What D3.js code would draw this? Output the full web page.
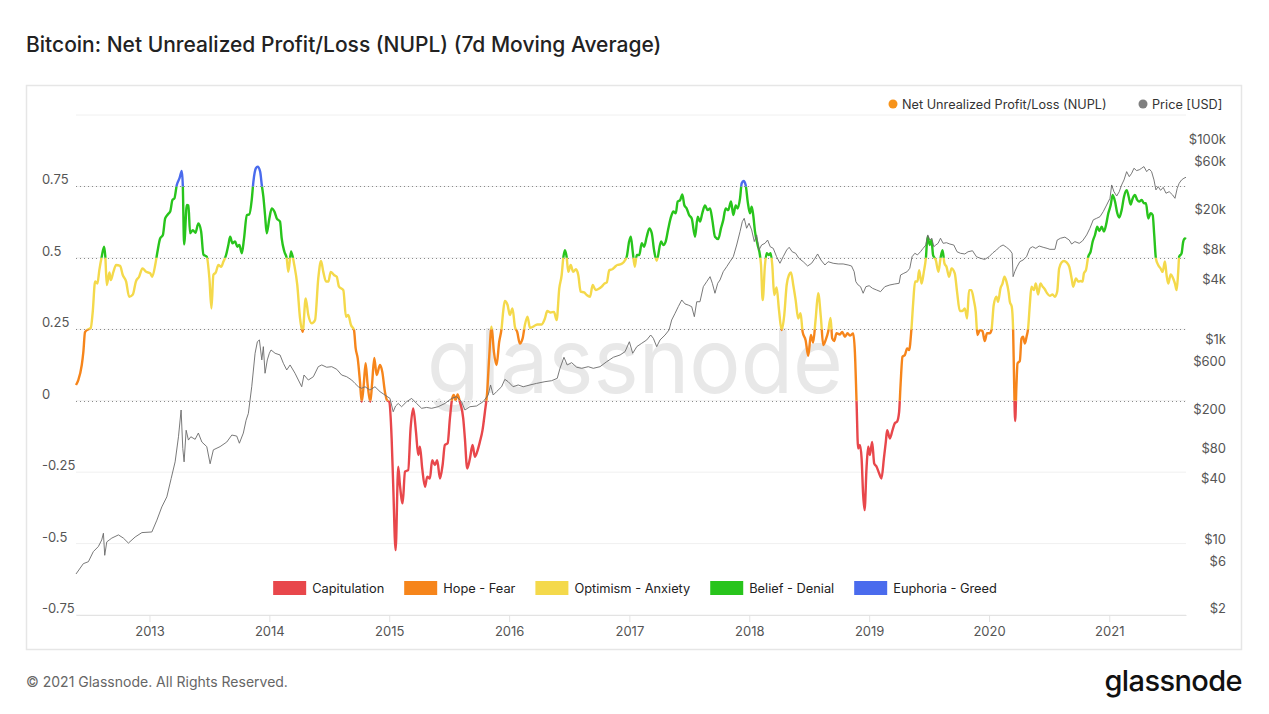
<!DOCTYPE html>
<html>
<head>
<meta charset="utf-8">
<script src="https://cdn.jsdelivr.net/npm/d3@7"></script>
<style>
  body { margin: 0; background: #fff; font-family: Inter, "Noto Sans", sans-serif; }
</style>
</head>
<body>
<svg id="chart" width="1269" height="714"></svg>
<script>
// NUPL (7d MA), [decimal year, value]
const nuplSeries = [
  [2012.389,0.055],[2012.408,0.072],[2012.437,0.125],[2012.450,0.17],[2012.464,0.24],[2012.492,0.25],
  [2012.512,0.255],[2012.528,0.31],[2012.548,0.417],[2012.567,0.41],[2012.583,0.457],[2012.603,0.504],
  [2012.623,0.539],[2012.633,0.504],[2012.645,0.405],[2012.667,0.449],[2012.678,0.422],[2012.700,0.451],
  [2012.723,0.475],[2012.756,0.472],[2012.778,0.44],[2012.806,0.417],[2012.831,0.364],[2012.862,0.372],
  [2012.887,0.417],[2012.914,0.434],[2012.942,0.463],[2012.973,0.451],[2013.006,0.446],[2013.023,0.434],
  [2013.048,0.475],[2013.067,0.522],[2013.089,0.568],[2013.112,0.58],[2013.131,0.638],[2013.153,0.652],
  [2013.173,0.662],[2013.192,0.703],[2013.208,0.708],[2013.228,0.755],[2013.250,0.778],[2013.270,0.804],
  [2013.278,0.755],[2013.289,0.547],[2013.312,0.685],[2013.325,0.683],[2013.339,0.586],[2013.362,0.597],
  [2013.383,0.588],[2013.408,0.62],[2013.431,0.592],[2013.450,0.512],[2013.478,0.504],[2013.500,0.428],
  [2013.517,0.323],[2013.533,0.44],[2013.553,0.449],[2013.575,0.475],[2013.598,0.469],[2013.617,0.487],
  [2013.639,0.51],[2013.658,0.545],[2013.673,0.574],[2013.692,0.551],[2013.714,0.557],[2013.733,0.539],
  [2013.750,0.545],[2013.770,0.516],[2013.789,0.568],[2013.812,0.65],[2013.833,0.652],[2013.853,0.703],
  [2013.867,0.767],[2013.887,0.813],[2013.903,0.819],[2013.923,0.802],[2013.937,0.755],[2013.950,0.714],
  [2013.964,0.65],[2013.978,0.586],[2014.000,0.638],[2014.020,0.673],[2014.042,0.662],[2014.062,0.638],
  [2014.089,0.627],[2014.103,0.568],[2014.125,0.522],[2014.145,0.498],[2014.158,0.451],[2014.181,0.522],
  [2014.208,0.475],[2014.233,0.405],[2014.256,0.288],[2014.278,0.241],[2014.303,0.358],[2014.325,0.3],
  [2014.353,0.271],[2014.381,0.282],[2014.408,0.428],[2014.431,0.489],[2014.450,0.451],[2014.473,0.417],
  [2014.492,0.417],[2014.512,0.451],[2014.539,0.44],[2014.562,0.434],[2014.581,0.399],[2014.617,0.387],
  [2014.639,0.294],[2014.658,0.3],[2014.681,0.265],[2014.706,0.247],[2014.720,0.183],[2014.737,0.148],
  [2014.756,0.066],[2014.770,-0.004],[2014.787,0.055],[2014.803,0.131],[2014.820,0.055],[2014.842,-0.004],
  [2014.858,0.066],[2014.875,0.15],[2014.895,0.09],[2014.923,0.125],[2014.942,0.101],[2014.964,0.031],
  [2014.981,0.002],[2015.000,-0.004],[2015.020,-0.132],[2015.033,-0.295],[2015.053,-0.523],[2015.075,-0.231],
  [2015.089,-0.295],[2015.112,-0.359],[2015.131,-0.248],[2015.158,-0.243],[2015.178,-0.097],[2015.200,-0.027],
  [2015.223,-0.109],[2015.242,-0.19],[2015.256,-0.161],[2015.275,-0.237],[2015.298,-0.301],[2015.317,-0.266],
  [2015.339,-0.272],[2015.358,-0.208],[2015.381,-0.225],[2015.400,-0.208],[2015.423,-0.272],[2015.445,-0.225],
  [2015.464,-0.155],[2015.487,-0.149],[2015.506,-0.062],[2015.525,0.008],[2015.539,0.02],[2015.553,0.002],
  [2015.570,0.022],[2015.589,-0.004],[2015.617,-0.062],[2015.631,-0.132],[2015.650,-0.237],[2015.673,-0.202],
  [2015.695,-0.155],[2015.714,-0.196],[2015.733,-0.179],[2015.756,-0.144],[2015.778,-0.103],[2015.798,-0.039],
  [2015.817,0.031],[2015.833,0.148],[2015.853,0.259],[2015.873,0.171],[2015.895,0.125],[2015.917,0.206],
  [2015.937,0.253],[2015.950,0.311],[2015.964,0.349],[2015.987,0.335],[2016.006,0.3],[2016.028,0.323],
  [2016.048,0.259],[2016.067,0.241],[2016.089,0.2],[2016.112,0.218],[2016.131,0.265],[2016.153,0.294],
  [2016.173,0.255],[2016.200,0.259],[2016.233,0.267],[2016.270,0.267],[2016.298,0.288],[2016.317,0.314],
  [2016.345,0.309],[2016.373,0.311],[2016.395,0.282],[2016.417,0.393],[2016.437,0.44],[2016.450,0.498],
  [2016.464,0.527],[2016.478,0.504],[2016.492,0.451],[2016.512,0.475],[2016.533,0.451],[2016.556,0.46],
  [2016.575,0.44],[2016.595,0.382],[2016.623,0.379],[2016.645,0.37],[2016.673,0.364],[2016.695,0.405],
  [2016.720,0.387],[2016.742,0.391],[2016.770,0.399],[2016.792,0.41],[2016.812,0.414],[2016.833,0.457],
  [2016.858,0.46],[2016.881,0.469],[2016.900,0.475],[2016.923,0.477],[2016.950,0.484],[2016.978,0.504],
  [2016.998,0.557],[2017.012,0.574],[2017.028,0.522],[2017.045,0.469],[2017.062,0.51],[2017.083,0.51],
  [2017.103,0.551],[2017.123,0.539],[2017.145,0.574],[2017.167,0.603],[2017.187,0.586],[2017.206,0.527],
  [2017.228,0.49],[2017.264,0.557],[2017.283,0.545],[2017.303,0.557],[2017.325,0.603],[2017.348,0.644],
  [2017.367,0.662],[2017.387,0.656],[2017.403,0.697],[2017.423,0.702],[2017.442,0.722],[2017.458,0.685],
  [2017.478,0.673],[2017.498,0.65],[2017.520,0.638],[2017.548,0.574],[2017.570,0.644],[2017.589,0.627],
  [2017.608,0.656],[2017.631,0.683],[2017.653,0.667],[2017.673,0.673],[2017.692,0.632],[2017.714,0.574],
  [2017.742,0.566],[2017.764,0.603],[2017.783,0.632],[2017.803,0.673],[2017.825,0.667],[2017.848,0.697],
  [2017.867,0.65],[2017.887,0.683],[2017.903,0.673],[2017.923,0.708],[2017.937,0.761],[2017.953,0.769],
  [2017.970,0.755],[2017.987,0.697],[2018.006,0.656],[2018.020,0.679],[2018.033,0.65],[2018.048,0.592],
  [2018.070,0.545],[2018.089,0.51],[2018.098,0.475],[2018.112,0.352],[2018.131,0.475],[2018.145,0.516],
  [2018.164,0.51],[2018.178,0.516],[2018.192,0.475],[2018.208,0.37],[2018.228,0.396],[2018.248,0.317],
  [2018.270,0.247],[2018.292,0.3],[2018.312,0.405],[2018.331,0.44],[2018.348,0.449],[2018.367,0.405],
  [2018.387,0.352],[2018.408,0.288],[2018.428,0.306],[2018.445,0.241],[2018.470,0.212],[2018.492,0.157],
  [2018.514,0.23],[2018.533,0.204],[2018.553,0.282],[2018.575,0.376],[2018.598,0.288],[2018.617,0.195],
  [2018.637,0.212],[2018.658,0.241],[2018.678,0.29],[2018.692,0.218],[2018.708,0.209],[2018.728,0.236],
  [2018.756,0.232],[2018.775,0.241],[2018.798,0.224],[2018.820,0.236],[2018.839,0.228],[2018.867,0.235],
  [2018.881,0.171],[2018.895,-0.004],[2018.908,-0.167],[2018.923,-0.155],[2018.937,-0.202],[2018.950,-0.33],
  [2018.962,-0.383],[2018.978,-0.237],[2018.992,-0.161],[2019.006,-0.19],[2019.025,-0.144],[2019.042,-0.219],
  [2019.062,-0.231],[2019.083,-0.254],[2019.103,-0.272],[2019.123,-0.202],[2019.139,-0.144],[2019.150,-0.103],
  [2019.173,-0.132],[2019.195,-0.103],[2019.214,-0.079],[2019.233,-0.073],[2019.250,-0.039],[2019.262,0.055],
  [2019.278,0.154],[2019.298,0.16],[2019.317,0.183],[2019.333,0.177],[2019.353,0.253],[2019.367,0.341],
  [2019.383,0.417],[2019.403,0.417],[2019.417,0.457],[2019.437,0.41],[2019.456,0.451],[2019.473,0.498],
  [2019.487,0.574],[2019.506,0.545],[2019.520,0.562],[2019.533,0.51],[2019.556,0.492],[2019.578,0.451],
  [2019.595,0.498],[2019.612,0.527],[2019.628,0.481],[2019.645,0.469],[2019.667,0.434],[2019.687,0.463],
  [2019.714,0.446],[2019.733,0.382],[2019.756,0.314],[2019.778,0.314],[2019.798,0.323],[2019.817,0.288],
  [2019.833,0.387],[2019.853,0.387],[2019.873,0.352],[2019.889,0.311],[2019.903,0.23],[2019.923,0.247],
  [2019.945,0.244],[2019.964,0.209],[2019.983,0.236],[2020.006,0.236],[2020.020,0.247],[2020.039,0.335],
  [2020.062,0.364],[2020.075,0.346],[2020.095,0.393],[2020.112,0.41],[2020.128,0.434],[2020.145,0.417],
  [2020.162,0.382],[2020.173,0.346],[2020.189,0.329],[2020.200,0.253],[2020.208,0.078],[2020.217,-0.071],
  [2020.228,0.055],[2020.237,0.131],[2020.256,0.139],[2020.270,0.218],[2020.283,0.224],[2020.298,0.2],
  [2020.312,0.224],[2020.325,0.253],[2020.339,0.335],[2020.353,0.399],[2020.373,0.387],[2020.389,0.41],
  [2020.408,0.372],[2020.428,0.41],[2020.445,0.40],[2020.464,0.39],[2020.483,0.376],[2020.506,0.367],
  [2020.528,0.372],[2020.548,0.364],[2020.567,0.382],[2020.583,0.463],[2020.603,0.484],[2020.623,0.489],
  [2020.645,0.484],[2020.667,0.469],[2020.687,0.428],[2020.700,0.399],[2020.723,0.428],[2020.742,0.417],
  [2020.762,0.419],[2020.778,0.417],[2020.789,0.446],[2020.806,0.457],[2020.825,0.504],[2020.845,0.522],
  [2020.862,0.557],[2020.881,0.58],[2020.900,0.609],[2020.917,0.594],[2020.937,0.609],[2020.956,0.592],
  [2020.973,0.615],[2020.992,0.656],[2021.012,0.685],[2021.028,0.72],[2021.048,0.697],[2021.067,0.656],
  [2021.083,0.641],[2021.103,0.667],[2021.123,0.714],[2021.145,0.737],[2021.162,0.714],[2021.178,0.687],
  [2021.195,0.708],[2021.214,0.72],[2021.233,0.703],[2021.250,0.697],[2021.270,0.703],[2021.289,0.691],
  [2021.306,0.691],[2021.325,0.638],[2021.345,0.656],[2021.362,0.65],[2021.375,0.58],[2021.389,0.498],
  [2021.408,0.475],[2021.428,0.463],[2021.445,0.451],[2021.464,0.487],[2021.478,0.44],[2021.492,0.41],
  [2021.512,0.442],[2021.533,0.428],[2021.548,0.41],[2021.562,0.387],[2021.575,0.451],[2021.583,0.504],
  [2021.603,0.516],[2021.617,0.557],[2021.631,0.568],[2021.640,0.566]
];

// BTC price in USD, [decimal year, price]
const priceSeries = [
  [2012.389,5.2],[2012.450,6.6],[2012.492,6.9],[2012.533,8.7],[2012.575,9.8],[2012.603,11.4],[2012.617,13.3],
  [2012.628,8.0],[2012.645,10.9],[2012.687,11.9],[2012.742,12.8],[2012.783,11.9],[2012.825,10.6],[2012.881,12.2],
  [2012.937,13.5],[2013.020,13.7],[2013.062,18],[2013.103,24.4],[2013.145,30.8],[2013.181,47],[2013.214,69],
  [2013.242,123],[2013.264,228],[2013.278,94],[2013.289,69],[2013.306,143],[2013.325,114],[2013.345,123],
  [2013.381,116],[2013.408,134],[2013.437,109],[2013.478,98],[2013.506,66],[2013.533,91],[2013.589,98],
  [2013.645,109],[2013.687,128],[2013.728,125],[2013.750,106],[2013.783,134],[2013.806,180],[2013.825,211],
  [2013.853,390],[2013.881,843],[2013.900,1100],[2013.917,1147],[2013.937,723],[2013.950,982],[2013.964,532],
  [2013.983,723],[2014.000,843],[2014.014,910],[2014.048,843],[2014.089,811],[2014.117,669],[2014.145,574],
  [2014.173,644],[2014.214,532],[2014.242,455],[2014.270,390],[2014.289,511],[2014.325,455],[2014.367,491],
  [2014.408,619],[2014.437,644],[2014.478,611],[2014.520,619],[2014.562,583],[2014.603,511],[2014.645,491],
  [2014.687,455],[2014.714,421],[2014.742,390],[2014.770,376],[2014.798,390],[2014.839,361],[2014.881,390],
  [2014.923,348],[2014.964,322],[2015.006,298],[2015.033,219],[2015.053,250],[2015.075,265],[2015.103,246],
  [2015.145,276],[2015.187,298],[2015.228,265],[2015.270,237],[2015.312,242],[2015.353,237],[2015.408,246],
  [2015.464,265],[2015.520,298],[2015.562,310],[2015.603,276],[2015.631,228],[2015.673,246],[2015.728,250],
  [2015.783,276],[2015.825,322],[2015.845,406],[2015.867,322],[2015.895,348],[2015.937,390],[2015.964,462],
  [2015.992,438],[2016.033,390],[2016.075,406],[2016.117,390],[2016.173,406],[2016.228,421],[2016.298,438],
  [2016.353,448],[2016.400,473],[2016.423,596],[2016.456,769],[2016.483,644],[2016.520,679],[2016.562,611],
  [2016.603,596],[2016.658,619],[2016.700,596],[2016.756,619],[2016.812,695],[2016.867,769],[2016.923,811],
  [2016.964,875],[2017.000,1100],[2017.028,843],[2017.062,982],[2017.103,1062],[2017.145,1147],[2017.178,1285],
  [2017.200,1191],[2017.228,982],[2017.256,1147],[2017.298,1285],[2017.331,1443],[2017.353,1816],[2017.381,2118],
  [2017.408,2468],[2017.437,2881],[2017.464,2631],[2017.492,2561],[2017.520,2468],[2017.542,1960],[2017.562,2768],
  [2017.589,2768],[2017.617,3917],[2017.645,4395],[2017.673,4932],[2017.692,4233],[2017.714,3364],[2017.737,4233],
  [2017.756,4571],[2017.783,5535],[2017.812,6208],[2017.839,6964],[2017.867,7814],[2017.895,10232],[2017.923,13921],
  [2017.942,17530],[2017.958,18950],[2017.978,15062],[2017.998,16901],[2018.020,14492],[2018.042,11070],
  [2018.062,12909],[2018.081,9114],[2018.103,10232],[2018.131,10639],[2018.153,11477],[2018.175,9836],
  [2018.200,9475],[2018.228,7814],[2018.256,6716],[2018.283,7814],[2018.312,9114],[2018.333,9708],[2018.358,8765],
  [2018.387,8451],[2018.414,7531],[2018.450,6964],[2018.487,6309],[2018.520,6716],[2018.548,7531],[2018.570,8323],
  [2018.598,7240],[2018.631,6454],[2018.658,6964],[2018.700,6716],[2018.742,6612],[2018.783,6612],[2018.825,6454],
  [2018.853,6309],[2018.875,5535],[2018.889,4395],[2018.908,4074],[2018.928,3917],[2018.950,3364],[2018.973,3917],
  [2019.000,4004],[2019.028,3771],[2019.062,3626],[2019.095,3492],[2019.131,3917],[2019.173,4074],[2019.214,4167],
  [2019.250,4233],[2019.262,5122],[2019.289,5331],[2019.317,5535],[2019.339,5983],[2019.358,7814],[2019.381,8451],
  [2019.403,8148],[2019.428,8765],[2019.450,9475],[2019.473,10232],[2019.489,12909],[2019.506,11477],[2019.523,11966],
  [2019.539,9836],[2019.556,10232],[2019.575,10639],[2019.595,11966],[2019.617,10639],[2019.645,10790],[2019.673,10464],
  [2019.706,10232],[2019.733,8765],[2019.762,8451],[2019.798,8323],[2019.825,8765],[2019.862,8963],[2019.895,7814],
  [2019.928,7531],[2019.964,7333],[2020.000,7814],[2020.033,8567],[2020.062,9114],[2020.089,9836],[2020.117,10232],
  [2020.145,9708],[2020.173,9114],[2020.192,8451],[2020.200,4932],[2020.214,5535],[2020.233,6208],[2020.256,6964],
  [2020.283,7240],[2020.312,7814],[2020.339,9475],[2020.362,9836],[2020.389,9475],[2020.417,9999],[2020.450,9708],
  [2020.483,9475],[2020.506,9265],[2020.548,9265],[2020.567,11477],[2020.595,11966],[2020.631,12269],[2020.667,11477],
  [2020.687,10464],[2020.714,11070],[2020.750,10639],[2020.778,11256],[2020.812,12909],[2020.839,15062],[2020.867,18275],
  [2020.895,18950],[2020.923,19672],[2020.950,22116],[2020.978,25724],[2021.006,30031],[2021.020,40856],[2021.039,34978],
  [2021.062,31661],[2021.083,34978],[2021.103,40856],[2021.123,45862],[2021.145,55523],[2021.167,49470],[2021.187,53544],
  [2021.206,60062],[2021.228,56920],[2021.250,57967],[2021.270,60062],[2021.289,62390],[2021.312,55523],[2021.333,59015],
  [2021.353,55523],[2021.373,45862],[2021.389,36433],[2021.408,39343],[2021.428,36084],[2021.450,38645],[2021.473,33756],
  [2021.500,34978],[2021.528,32476],[2021.548,30031],[2021.567,37830],[2021.583,42486],[2021.603,45862],[2021.623,47724],
  [2021.640,48772]
];

const nuplTicks = [-0.75, -0.5, -0.25, 0, 0.25, 0.5, 0.75, 1];
const nuplLabeled = [-0.75, -0.5, -0.25, 0, 0.25, 0.5, 0.75];
const zoneLines = [0, 0.25, 0.5, 0.75];
const priceTicks = [2, 6, 10, 40, 80, 200, 600, 1000, 4000, 8000, 20000, 60000, 100000];
const yearTicks = [2013, 2014, 2015, 2016, 2017, 2018, 2019, 2020, 2021];
const zoneNames = ['Capitulation', 'Hope - Fear', 'Optimism - Anxiety', 'Belief - Denial', 'Euphoria - Greed'];
const zoneBounds = [[-2, 0], [0, 0.25], [0.25, 0.5], [0.5, 0.75], [0.75, 2]];

const zoneColors = ['#e8474b', '#f6851b', '#f4d94b', '#28c41c', '#4a6bed'];

const svg = d3.select('#chart');
const margin = { left: 76, right: 1186, top: 115, bottom: 615 };

const yearToDate = (y) => {
  const yr = Math.floor(y);
  const a = Date.UTC(yr, 0, 1), b = Date.UTC(yr + 1, 0, 1);
  return new Date(a + (y - yr) * (b - a));
};

const xScale = d3.scaleUtc()
  .domain([yearToDate(2012.389), yearToDate(2021.640)])
  .range([margin.left, margin.right]);
const yScale = d3.scaleLinear().domain([-0.75, 1]).range([margin.bottom, margin.top]);
const pScale = d3.scaleLog().domain([2.02, 205000]).range([margin.bottom, margin.top]);

// card
svg.append('rect').attr('x', 26.5).attr('y', 85.5).attr('width', 1215).attr('height', 564)
  .attr('fill', '#fff').attr('stroke', '#e6e6e6').attr('stroke-width', 1.5);

// title + footer
svg.append('text').attr('x', 26).attr('y', 52).text('Bitcoin: Net Unrealized Profit/Loss (NUPL) (7d Moving Average)')
  .attr('font-size', 21).attr('font-weight', 500).attr('fill', '#222');
svg.append('text').attr('x', 26).attr('y', 687).text('© 2021 Glassnode. All Rights Reserved.')
  .attr('font-size', 14).attr('fill', '#666');
svg.append('text').attr('x', 1242).attr('y', 691).attr('text-anchor', 'end').text('glassnode')
  .attr('font-size', 29).attr('font-weight', 500).attr('fill', '#111').attr('letter-spacing', -0.6);

// watermark
svg.append('text').attr('x', 427).attr('y', 393).text('glassnode')
  .attr('font-size', 90).attr('fill', '#e8e8e8').attr('textLength', 416).attr('lengthAdjust', 'spacingAndGlyphs');

// grid
const g = svg.append('g');
g.selectAll('.grid').data(nuplTicks).join('line')
  .attr('x1', margin.left).attr('x2', margin.right)
  .attr('y1', (d) => yScale(d)).attr('y2', (d) => yScale(d))
  .attr('stroke', '#f0f0f0').attr('stroke-width', 1);
g.selectAll('.zone').data(zoneLines).join('line')
  .attr('x1', margin.left).attr('x2', margin.right)
  .attr('y1', (d) => Math.round(yScale(d)) + 0.5).attr('y2', (d) => Math.round(yScale(d)) + 0.5)
  .attr('stroke', '#8a8a8a').attr('stroke-width', 1).attr('stroke-dasharray', '1 3');

// left axis labels
g.selectAll('.ylab').data(nuplLabeled).join('text')
  .attr('x', 42).attr('y', (d) => yScale(d) - 2)
  .text((d) => String(d))
  .attr('font-size', 13).attr('fill', '#555');

// right axis labels
const fmtPrice = (d) => d >= 1000 ? `$${d / 1000}k` : `$${d}`;
g.selectAll('.plab').data(priceTicks).join('text')
  .attr('x', 1226).attr('y', (d) => pScale(d) - 2).attr('text-anchor', 'end')
  .text(fmtPrice)
  .attr('font-size', 13).attr('fill', '#555');

// x axis
const xAxis = d3.axisBottom(xScale)
  .tickValues(yearTicks.map((y) => yearToDate(y)))
  .tickFormat(d3.utcFormat('%Y'))
  .tickSizeInner(7).tickSizeOuter(0).tickPadding(5);
const xAxisGroup = svg.append('g').attr('transform', `translate(0, ${margin.bottom})`).call(xAxis);
xAxisGroup.select('.domain').attr('stroke', '#e3e3e3');
xAxisGroup.selectAll('line').attr('stroke', '#e3e3e3');
xAxisGroup.selectAll('text').attr('font-size', 13).attr('fill', '#555').attr('font-family', 'Inter, sans-serif');

// NUPL line coloured by zone
const defs = svg.append('defs');
zoneBounds.forEach(([lo, hi], i) => {
  defs.append('clipPath').attr('id', `zone${i}`)
    .append('rect').attr('x', 0).attr('width', 1269)
    .attr('y', yScale(hi)).attr('height', yScale(lo) - yScale(hi));
});

const nuplLine = d3.line()
  .x((d) => xScale(yearToDate(d[0])))
  .y((d) => yScale(d[1]))
  .curve(d3.curveMonotoneX);

zoneBounds.forEach((b, i) => {
  svg.append('path')
    .attr('d', nuplLine(nuplSeries))
    .attr('fill', 'none')
    .attr('stroke', zoneColors[i])
    .attr('stroke-width', 2.4)
    .attr('stroke-linejoin', 'round')
    .attr('clip-path', `url(#zone${i})`);
});

// Price line
const priceLine = d3.line()
  .x((d) => xScale(yearToDate(d[0])))
  .y((d) => pScale(d[1]));
svg.append('path')
  .attr('d', priceLine(priceSeries))
  .attr('fill', 'none')
  .attr('stroke', '#6a6a6a')
  .attr('stroke-opacity', 0.9)
  .attr('stroke-width', 1);

// top legend
const topLegend = [
  { label: 'Net Unrealized Profit/Loss (NUPL)', color: '#f7931a', x: 893 },
  { label: 'Price [USD]', color: '#7f7f7f', x: 1143 },
];
const tl = svg.append('g').selectAll('g').data(topLegend).join('g')
  .attr('transform', (d) => `translate(${d.x}, 104)`);
tl.append('circle').attr('r', 4.5).attr('fill', (d) => d.color);
tl.append('text').attr('x', 9).attr('y', 4.5).text((d) => d.label)
  .attr('font-size', 12.7).attr('fill', '#333');

// bottom legend
const bl = svg.append('g');
let cx = 0;
zoneNames.forEach((name, i) => {
  const item = bl.append('g').attr('transform', `translate(${cx}, 0)`);
  item.append('rect').attr('x', 0).attr('y', -7).attr('width', 33).attr('height', 14)
    .attr('fill', zoneColors[i]);
  const t = item.append('text').attr('x', 39).attr('y', 4.5).text(name)
    .attr('font-size', 12.8).attr('fill', '#222');
  cx += 39 + t.node().getComputedTextLength() + 20;
});
const totalW = cx - 20;
bl.attr('transform', `translate(${635 - totalW / 2}, 588)`);
</script>
</body>
</html>
